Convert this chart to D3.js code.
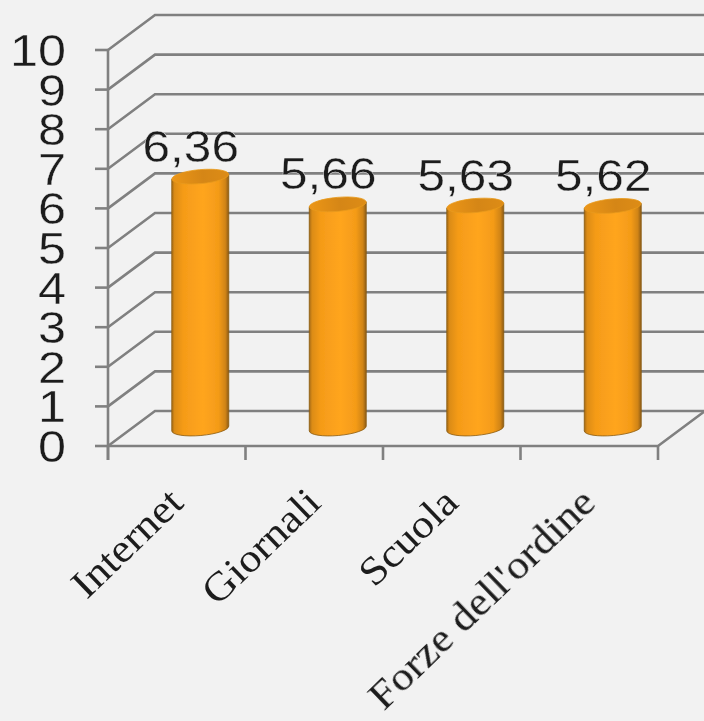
<!DOCTYPE html>
<html><head><meta charset="utf-8">
<script src="https://cdn.jsdelivr.net/npm/d3@7/dist/d3.min.js"></script>
<style>html,body{margin:0;padding:0;background:#f2f2f2;overflow:hidden}svg{display:block}</style>
</head><body><svg id="c" width="704" height="721"></svg>
<script>
const categories = ["Internet","Giornali","Scuola","Forze dell'ordine"];
const values = [6.36,5.66,5.63,5.62];
const valueLabels = ["6,36","5,66","5,63","5,62"];
const yTicks = [0,1,2,3,4,5,6,7,8,9,10];

const W=704,H=721, plotLeft=108,plotRight=658,plotBottom=446,plotTop=50, dx=47,dy=35;
const svg=d3.select("#c");
const y=d3.scaleLinear().domain([0,10]).range([plotBottom,plotTop]);
const x=d3.scaleBand().domain(categories).range([plotLeft,plotRight]);
const defs=svg.append("defs");
const blurF=defs.append("filter").attr("id","b").attr("filterUnits","userSpaceOnUse").attr("x",0).attr("y",0).attr("width",W).attr("height",H);
blurF.append("feGaussianBlur").attr("stdDeviation",0.7);
const g1=defs.append("linearGradient").attr("id","body");
[[0,"#a56a12"],[0.05,"#dc8c14"],[0.2,"#f59b18"],[0.55,"#ffa51f"],[0.82,"#f49b18"],[0.94,"#d08412"],[1,"#8d5c14"]]
 .forEach(s=>g1.append("stop").attr("offset",s[0]).attr("stop-color",s[1]));
const g2=defs.append("linearGradient").attr("id","cap");
[[0,"#ec961a"],[0.55,"#d58614"],[1,"#dd8c14"]].forEach(s=>g2.append("stop").attr("offset",s[0]).attr("stop-color",s[1]));

svg.append("rect").attr("width",W).attr("height",H).attr("fill","#f2f2f2");
const root=svg.append("g").attr("filter","url(#b)");
const grid="#808080";
const gl=root.append("g").attr("fill","none").attr("stroke",grid).attr("stroke-width",2.6);
// walls and gridlines
gl.selectAll("path.g").data(yTicks).join("path").attr("class","g")
  .attr("d",t=>`M${plotLeft},${y(t)}L${plotLeft+dx},${y(t)-dy}L${W+5},${y(t)-dy}`);
gl.append("path").attr("d",`M${plotLeft},${plotTop}V${plotBottom+14}`);
gl.append("path").attr("d",`M${plotLeft},${plotBottom}H${plotRight}L${plotRight+dx},${plotBottom-dy}`);
gl.selectAll("path.yt").data(yTicks).join("path").attr("class","yt")
  .attr("d",t=>`M${plotLeft-13},${y(t)}H${plotLeft}`);
const xEdges=categories.map(c=>x(c)).concat([plotRight]);
gl.selectAll("path.xt").data(xEdges).join("path").attr("class","xt")
  .attr("d",e=>`M${e},${plotBottom}V${plotBottom+14}`);

// cylinders
const rx=28.5, ry=7, tilt=-5;
const bars=root.selectAll("g.bar").data(categories.map((c,i)=>({c,v:values[i],l:valueLabels[i]}))).join("g").attr("class","bar");
const cx=d=>x(d.c)+x.bandwidth()/2+dx/2;
const cyBase=()=>y(0)-dy/2;
const cyTop=d=>y(d.v)-dy/2;
const s=Math.sin(tilt*Math.PI/180)*rx;
bars.append("path").attr("fill","url(#body)").attr("stroke","#8a5a12").attr("stroke-width",0.8)
  .attr("d",d=>{const c=cx(d),b=cyBase(),t=cyTop(d);
    return `M${c-rx},${t-s}L${c+rx},${t+s}L${c+rx},${b+s}A${rx},${ry} ${tilt} 0 1 ${c-rx},${b-s}Z`;});
bars.append("ellipse").attr("fill","url(#cap)").attr("stroke","#e89a1c").attr("stroke-width",0.8)
  .attr("cx",cx).attr("cy",cyTop).attr("rx",rx).attr("ry",ry)
  .attr("transform",d=>`rotate(${tilt} ${cx(d)} ${cyTop(d)})`);

// text
const txt=svg.append("g").attr("filter","url(#b)").attr("fill","#1c1c1c");
txt.selectAll("text.y").data(yTicks).join("text").attr("class","y")
  .attr("text-anchor","end").attr("font-family","Liberation Sans").attr("font-size",45)
  .attr("stroke","#f2f2f2").attr("stroke-width",0.35)
  .attr("transform",t=>`translate(66,${y(t)+16}) scale(1.12,1)`).text(t=>t);
txt.selectAll("text.v").data(bars.data()).join("text").attr("class","v")
  .attr("text-anchor","middle").attr("font-family","Liberation Sans").attr("font-size",45)
  .attr("stroke","#f2f2f2").attr("stroke-width",0.35)
  .attr("transform",d=>`translate(${cx(d)-9.5},${cyTop(d)-15}) scale(1.1,1)`).text(d=>d.l);
txt.selectAll("text.c").data(categories).join("text").attr("class","c")
  .attr("text-anchor","end").attr("font-family","Liberation Serif").attr("font-size",40)
  .attr("transform",c=>`translate(${x(c)+x.bandwidth()/2+8.5},505) rotate(-44) scale(1.1,1)`).text(c=>c);
</script></body></html>
